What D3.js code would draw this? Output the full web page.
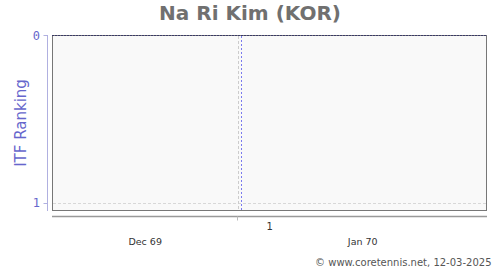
<!DOCTYPE html>
<html>
<head>
<meta charset="utf-8">
<script src="https://cdn.jsdelivr.net/npm/d3@7"></script>
<style>
html,body{margin:0;padding:0;background:#fff;}
svg{display:block;font-family:"DejaVu Sans",sans-serif;}
</style>
</head>
<body>
<svg id="chart" width="500" height="270"></svg>
<script>
// ---- data ----
const titleText = "Na Ri Kim (KOR)";
const yLabel = "ITF Ranking";
const yTicks = [0, 1];
const monthLabels = ["Dec 69", "Jan 70"];
const monthStarts = [new Date(1969, 11, 1), new Date(1970, 0, 1)];
const domainEnd = new Date(1970, 1, 11, 8);
const rankDates = [new Date(1969, 11, 1), new Date(1970, 1, 11, 8)];
const rankValues = [0, 0];
const markerDates = [new Date(1970, 0, 1, 10)];
const weekLabelDates = [new Date(1970, 0, 6, 5)];
const weekLabels = ["1"];
const credit = "\u00a9 www.coretennis.net, 12-03-2025";

// ---- layout ----
const svg = d3.select("#chart");
const L = 52, R = 487, T = 35, B = 211;
const x = d3.scaleTime().domain([monthStarts[0], domainEnd]).range([L, R]);
const y = d3.scaleLinear().domain([0, 1]).range([T, 202.5]);

svg.append("text").attr("x", 250).attr("y", 20).attr("text-anchor", "middle")
  .attr("font-size", 20).attr("font-weight", "bold").attr("fill", "#707070").text(titleText);

// plot background
svg.append("rect").attr("x", L + 0.5).attr("y", T + 0.5).attr("width", R - L - 1).attr("height", B - T - 1)
  .attr("fill", "#f9f9f9").attr("stroke", "#777").attr("stroke-width", 1);

// horizontal grid
svg.selectAll(".hgrid").data(yTicks.filter(d => d > 0)).join("line")
  .attr("x1", L + 1).attr("x2", R - 1).attr("y1", d => Math.round(y(d)) + 0.5).attr("y2", d => Math.round(y(d)) + 0.5)
  .attr("stroke", "#d8d8d8").attr("stroke-dasharray", "3,2");

// vertical grid at month boundaries (excluding left edge)
const bounds = monthStarts.slice(1);
svg.selectAll(".vgrid").data(bounds).join("line")
  .attr("x1", d => Math.round(x(d)) + 0.5).attr("x2", d => Math.round(x(d)) + 0.5)
  .attr("y1", T + 1).attr("y2", B - 1)
  .attr("stroke", "#cccccc").attr("stroke-dasharray", "3,2");

// marker line
svg.selectAll(".marker").data(markerDates).join("line")
  .attr("x1", d => Math.round(x(d)) + 0.5).attr("x2", d => Math.round(x(d)) + 0.5)
  .attr("y1", T + 1).attr("y2", B - 1)
  .attr("stroke", "#7a7aee").attr("stroke-dasharray", "2,2");

// rank series line
svg.append("path").datum(rankDates.map((d, i) => [d, rankValues[i]]))
  .attr("d", d3.line().x(d => x(d[0])).y(d => Math.round(y(d[1])) + 0.5))
  .attr("fill", "none").attr("stroke", "#3a3a66").attr("stroke-dasharray", "2,1");

// y axis
const yAxisX = 47.5;
svg.append("line").attr("x1", yAxisX).attr("x2", yAxisX).attr("y1", T).attr("y2", B)
  .attr("stroke", "#b0b0e0");
svg.selectAll(".ytick").data(yTicks).join("line")
  .attr("x1", yAxisX - 4).attr("x2", yAxisX).attr("y1", d => Math.round(y(d)) + 0.5).attr("y2", d => Math.round(y(d)) + 0.5)
  .attr("stroke", "#b0b0e0");
svg.selectAll(".ylab").data(yTicks).join("text")
  .attr("x", 40).attr("y", d => y(d) + 4.5).attr("text-anchor", "end")
  .attr("font-size", 12).attr("font-family", "'DejaVu Sans Mono',monospace").attr("fill", "#6666cc").text(d => d);

svg.append("text").attr("transform", "translate(26,123) rotate(-90)").attr("text-anchor", "middle")
  .attr("font-size", 15).attr("fill", "#6666cc").text(yLabel);

// x axis
const xAxisY = 216.5;
svg.append("line").attr("x1", L).attr("x2", R).attr("y1", xAxisY).attr("y2", xAxisY)
  .attr("stroke", "#999").attr("stroke-width", 1.5);
svg.selectAll(".xtick").data(bounds).join("line")
  .attr("x1", d => Math.round(x(d)) - 0.5).attr("x2", d => Math.round(x(d)) - 0.5)
  .attr("y1", xAxisY).attr("y2", xAxisY + 4).attr("stroke", "#bbb");

const edges = monthStarts.map(d => x(d)).concat([R]);
svg.selectAll(".mlab").data(monthLabels).join("text")
  .attr("x", (d, i) => (edges[i] + edges[i + 1]) / 2).attr("y", 245)
  .attr("text-anchor", "middle").attr("font-size", 9.5).attr("fill", "#333").text(d => d);

svg.selectAll(".wlab").data(weekLabels).join("text")
  .attr("x", (d, i) => x(weekLabelDates[i])).attr("y", 229.5)
  .attr("text-anchor", "middle").attr("font-size", 10).attr("fill", "#333").text(d => d);

svg.append("text").attr("x", 491.5).attr("y", 266).attr("text-anchor", "end")
  .attr("font-size", 10).attr("fill", "#555").text(credit);
</script>
</body>
</html>
